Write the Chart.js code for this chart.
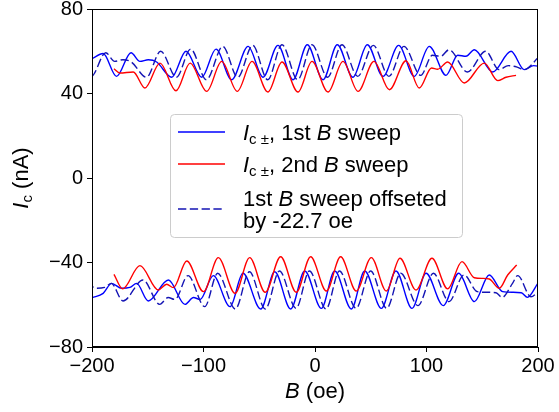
<!DOCTYPE html>
<html>
<head>
<meta charset="utf-8">
<script src="https://cdn.jsdelivr.net/npm/chart.js@4.4.1/dist/chart.umd.min.js"></script>
<style>
  html, body { margin: 0; padding: 0; background: #ffffff; }
  #wrap { width: 559px; height: 412px; position: relative; }
</style>
</head>
<body>
<div id="wrap"><canvas id="c" width="559" height="412"></canvas></div>
<script>
// ---- data (B in oe, Ic in nA) ----
const OFFSET = -22.7; // "1st B sweep offseted by -22.7 oe"

const blueUpperX = [-200, -190, -178, -165, -157, -149.5, -142, -128.5, -115.7, -101.6, -88.8, -74.7, -60, -46.6, -33.2, -19.7, -6.9, 7.2, 20, 34, 46.9, 61, 75, 89, 102.5, 117.5, 128, 135.4, 142.9, 159.4, 175.8, 187.7, 196, 204, 210.4, 223];
const blueUpperY = [56.5, 58.9, 48.1, 59.3, 55.2, 56, 54.9, 47.7, 60, 47.7, 61, 46.5, 62.3, 47.7, 62.8, 46.5, 63.1, 46.5, 63.1, 47.7, 63.1, 48.1, 62.8, 48.1, 62.3, 48.6, 58.1, 57.6, 60.7, 50.2, 60, 51.3, 53.2, 52.5, 51.3, 57];

const blueLowerX = [-200, -190, -182.4, -173.4, -166, -160, -149.5, -131.5, -116.6, -109, -103, -91.2, -76.2, -64.6, -48.7, -36.1, -21.8, -9.2, 5.7, 17.7, 32.6, 44.6, 59.5, 72.6, 87, 99.6, 115, 128.9, 142.9, 156.3, 168.3, 177.3, 185, 190.5, 199.7, 204.5, 216.4, 223];
const blueLowerY = [-56.7, -54.6, -49.9, -52.2, -51.8, -49.9, -58.2, -48.3, -59.8, -56.6, -57.5, -46.2, -60.9, -45.1, -62, -44.4, -62, -44, -61.7, -44, -62, -44, -61.7, -44, -61.7, -45.1, -60.4, -45.1, -58.5, -45.9, -53.8, -54.1, -54.3, -56.5, -50, -46.2, -56.2, -53.8];

const redUpperX = [-180.3, -175, -163, -152.5, -139, -124.7, -112, -97.1, -83.7, -69.7, -56.5, -42.2, -29.6, -15.2, -2.7, 11.7, 25.1, 38.6, 52.9, 66.7, 81.6, 93.5, 104.5, 110, 119, 133.9, 151.8, 163.9, 171.3, 180.3];
const redUpperY = [51.7, 49.7, 50.2, 42.6, 54.4, 41.3, 54.4, 41, 55.2, 41, 55.2, 40.7, 54.9, 40.7, 55.2, 40.7, 55.2, 41, 55.2, 41.8, 55.5, 42.6, 52.1, 51.5, 54.9, 45, 54.4, 46.1, 47.7, 48.6];

const redLowerX = [-180.3, -172.5, -157, -140.5, -133, -127, -115, -100, -86.7, -71.7, -58.6, -44.6, -30.8, -16.8, -3.9, 10.2, 23, 37, 50.5, 64, 76.2, 90.6, 104.9, 119, 131.8, 142.9, 150.4, 156.3, 165.3, 172.8, 180.9];
const redLowerY = [-45.6, -52.5, -41.5, -53, -50.3, -51.9, -39.3, -53.8, -37.7, -54.6, -37.7, -54.1, -37.3, -54.1, -37.3, -53.5, -37.3, -53.5, -37.7, -53.5, -38, -53, -38, -52.5, -39.6, -47.2, -47.5, -47.8, -52.2, -45.9, -41.2];

const xTicks = [-200, -100, 0, 100, 200];
const yTicks = [-80, -40, 0, 40, 80];

// ---- styles ----
const FONT = '"Liberation Sans", Arial, Helvetica, sans-serif';
const BLUE = '#0000ff';
const RED = '#ff0000';
const DASHBLUE = '#1414b4';
const LW = 1.4;
const DASH = [8.3, 3.5];

function pts(xs, ys, dx) {
  return xs.map((x, i) => ({ x: x + (dx || 0), y: ys[i] }));
}

function ds(data, color, dash) {
  return {
    data: data,
    showLine: true,
    borderColor: color,
    backgroundColor: color,
    borderWidth: LW,
    borderDash: dash || [],
    pointRadius: 0,
    pointHoverRadius: 0,
    cubicInterpolationMode: 'monotone',
    fill: false
  };
}

const datasets = [
  ds(pts(blueUpperX, blueUpperY, OFFSET), DASHBLUE, DASH),
  ds(pts(blueLowerX, blueLowerY, OFFSET), DASHBLUE, DASH),
  ds(pts(redUpperX, redUpperY), RED),
  ds(pts(redLowerX, redLowerY), RED),
  ds(pts(blueUpperX, blueUpperY), BLUE),
  ds(pts(blueLowerX, blueLowerY), BLUE)
];

function fmt(v) { return String(v).replace('-', '\u2212'); }

function drawRich(ctx, x, y, parts) {
  let cx = x;
  for (const p of parts) {
    ctx.font = p.font;
    ctx.fillText(p.t, cx, y + (p.dy || 0));
    cx += ctx.measureText(p.t).width;
  }
  return cx - x;
}
function richWidth(ctx, parts) {
  let w = 0;
  for (const p of parts) { ctx.font = p.font; w += ctx.measureText(p.t).width; }
  return w;
}

const F22 = '22px ' + FONT;
const I22 = 'italic 22px ' + FONT;
const F15 = '15px ' + FONT;

const framePlugin = {
  id: 'frame',
  afterDatasetsDraw(chart) {
    const a = chart.chartArea, ctx = chart.ctx;
    ctx.save();
    ctx.strokeStyle = '#000';
    ctx.lineWidth = 1;
    ctx.strokeRect(Math.round(a.left) + 0.5, Math.round(a.top) + 0.5,
                   Math.round(a.right - a.left) - 1, Math.round(a.bottom - a.top) - 1);
    ctx.restore();
  }
};

const titlesPlugin = {
  id: 'titles',
  afterDraw(chart) {
    const ctx = chart.ctx, a = chart.chartArea;
    ctx.save();
    ctx.fillStyle = '#000';
    ctx.textBaseline = 'alphabetic';
    // x title
    const xp = [{ t: 'B', font: I22 }, { t: ' (oe)', font: F22 }];
    const xw = richWidth(ctx, xp);
    drawRich(ctx, (a.left + a.right) / 2 - xw / 2, 398, xp);
    // y title (rotated)
    const yp = [{ t: 'I', font: I22 }, { t: 'c', font: F15, dy: 4 }, { t: ' (nA)', font: F22 }];
    const yw = richWidth(ctx, yp);
    ctx.translate(28, (a.top + a.bottom) / 2);
    ctx.rotate(-Math.PI / 2);
    drawRich(ctx, -yw / 2, 0, yp);
    ctx.restore();
  }
};

const legendPlugin = {
  id: 'customLegend',
  afterDraw(chart) {
    const ctx = chart.ctx;
    ctx.save();
    const bx = 170.5, by = 114.5, bw = 292, bh = 123, r = 4;
    ctx.beginPath();
    ctx.moveTo(bx + r, by);
    ctx.arcTo(bx + bw, by, bx + bw, by + bh, r);
    ctx.arcTo(bx + bw, by + bh, bx, by + bh, r);
    ctx.arcTo(bx, by + bh, bx, by, r);
    ctx.arcTo(bx, by, bx + bw, by, r);
    ctx.closePath();
    ctx.fillStyle = 'rgba(255,255,255,0.8)';
    ctx.fill();
    ctx.strokeStyle = '#cccccc';
    ctx.lineWidth = 1;
    ctx.stroke();

    const lx0 = 178, lx1 = 225, tx = 243;
    function sample(y, color, dash) {
      ctx.beginPath();
      ctx.setLineDash(dash || []);
      ctx.strokeStyle = color;
      ctx.lineWidth = LW;
      ctx.moveTo(lx0, y);
      ctx.lineTo(lx1, y);
      ctx.stroke();
      ctx.setLineDash([]);
    }
    sample(132, BLUE);
    sample(164, RED);
    sample(209, DASHBLUE, DASH);

    ctx.fillStyle = '#000';
    ctx.textBaseline = 'alphabetic';
    drawRich(ctx, tx, 140, [
      { t: 'I', font: I22 }, { t: 'c \u00b1', font: F15, dy: 4 },
      { t: ', 1st ', font: F22 }, { t: 'B', font: I22 }, { t: ' sweep', font: F22 }
    ]);
    drawRich(ctx, tx, 172, [
      { t: 'I', font: I22 }, { t: 'c \u00b1', font: F15, dy: 4 },
      { t: ', 2nd ', font: F22 }, { t: 'B', font: I22 }, { t: ' sweep', font: F22 }
    ]);
    drawRich(ctx, tx, 206, [
      { t: '1st ', font: F22 }, { t: 'B', font: I22 }, { t: ' sweep offseted', font: F22 }
    ]);
    drawRich(ctx, tx, 228, [
      { t: 'by -22.7 oe', font: F22 }
    ]);
    ctx.restore();
  }
};

new Chart(document.getElementById('c'), {
  type: 'scatter',
  data: { datasets: datasets },
  options: {
    responsive: false,
    animation: false,
    devicePixelRatio: 1,
    events: [],
    layout: { padding: { top: 9, right: 21, left: 0, bottom: 0 } },
    plugins: { legend: { display: false }, tooltip: { enabled: false } },
    scales: {
      x: {
        type: 'linear',
        min: -200, max: 200,
        afterBuildTicks(scale) { scale.ticks = xTicks.map(v => ({ value: v })); },
        afterFit(scale) { scale.height = 65; scale.paddingLeft = 0; scale.paddingRight = 0; },
        grid: { display: true, drawOnChartArea: false, drawTicks: true, tickLength: 5, tickColor: '#000', tickWidth: 1 },
        border: { display: true, color: '#000', width: 1 },
        ticks: { color: '#000', font: { family: FONT, size: 20 }, padding: 2, maxRotation: 0, autoSkip: false, callback: v => fmt(v) }
      },
      y: {
        type: 'linear',
        min: -80, max: 80,
        afterBuildTicks(scale) { scale.ticks = yTicks.map(v => ({ value: v })); },
        afterFit(scale) { scale.width = 92; scale.paddingTop = 0; scale.paddingBottom = 0; },
        grid: { display: true, drawOnChartArea: false, drawTicks: true, tickLength: 5, tickColor: '#000', tickWidth: 1 },
        border: { display: true, color: '#000', width: 1 },
        ticks: { color: '#000', font: { family: FONT, size: 20 }, padding: 4, autoSkip: false, callback: v => fmt(v) }
      }
    }
  },
  plugins: [framePlugin, titlesPlugin, legendPlugin]
});
</script>
</body>
</html>
